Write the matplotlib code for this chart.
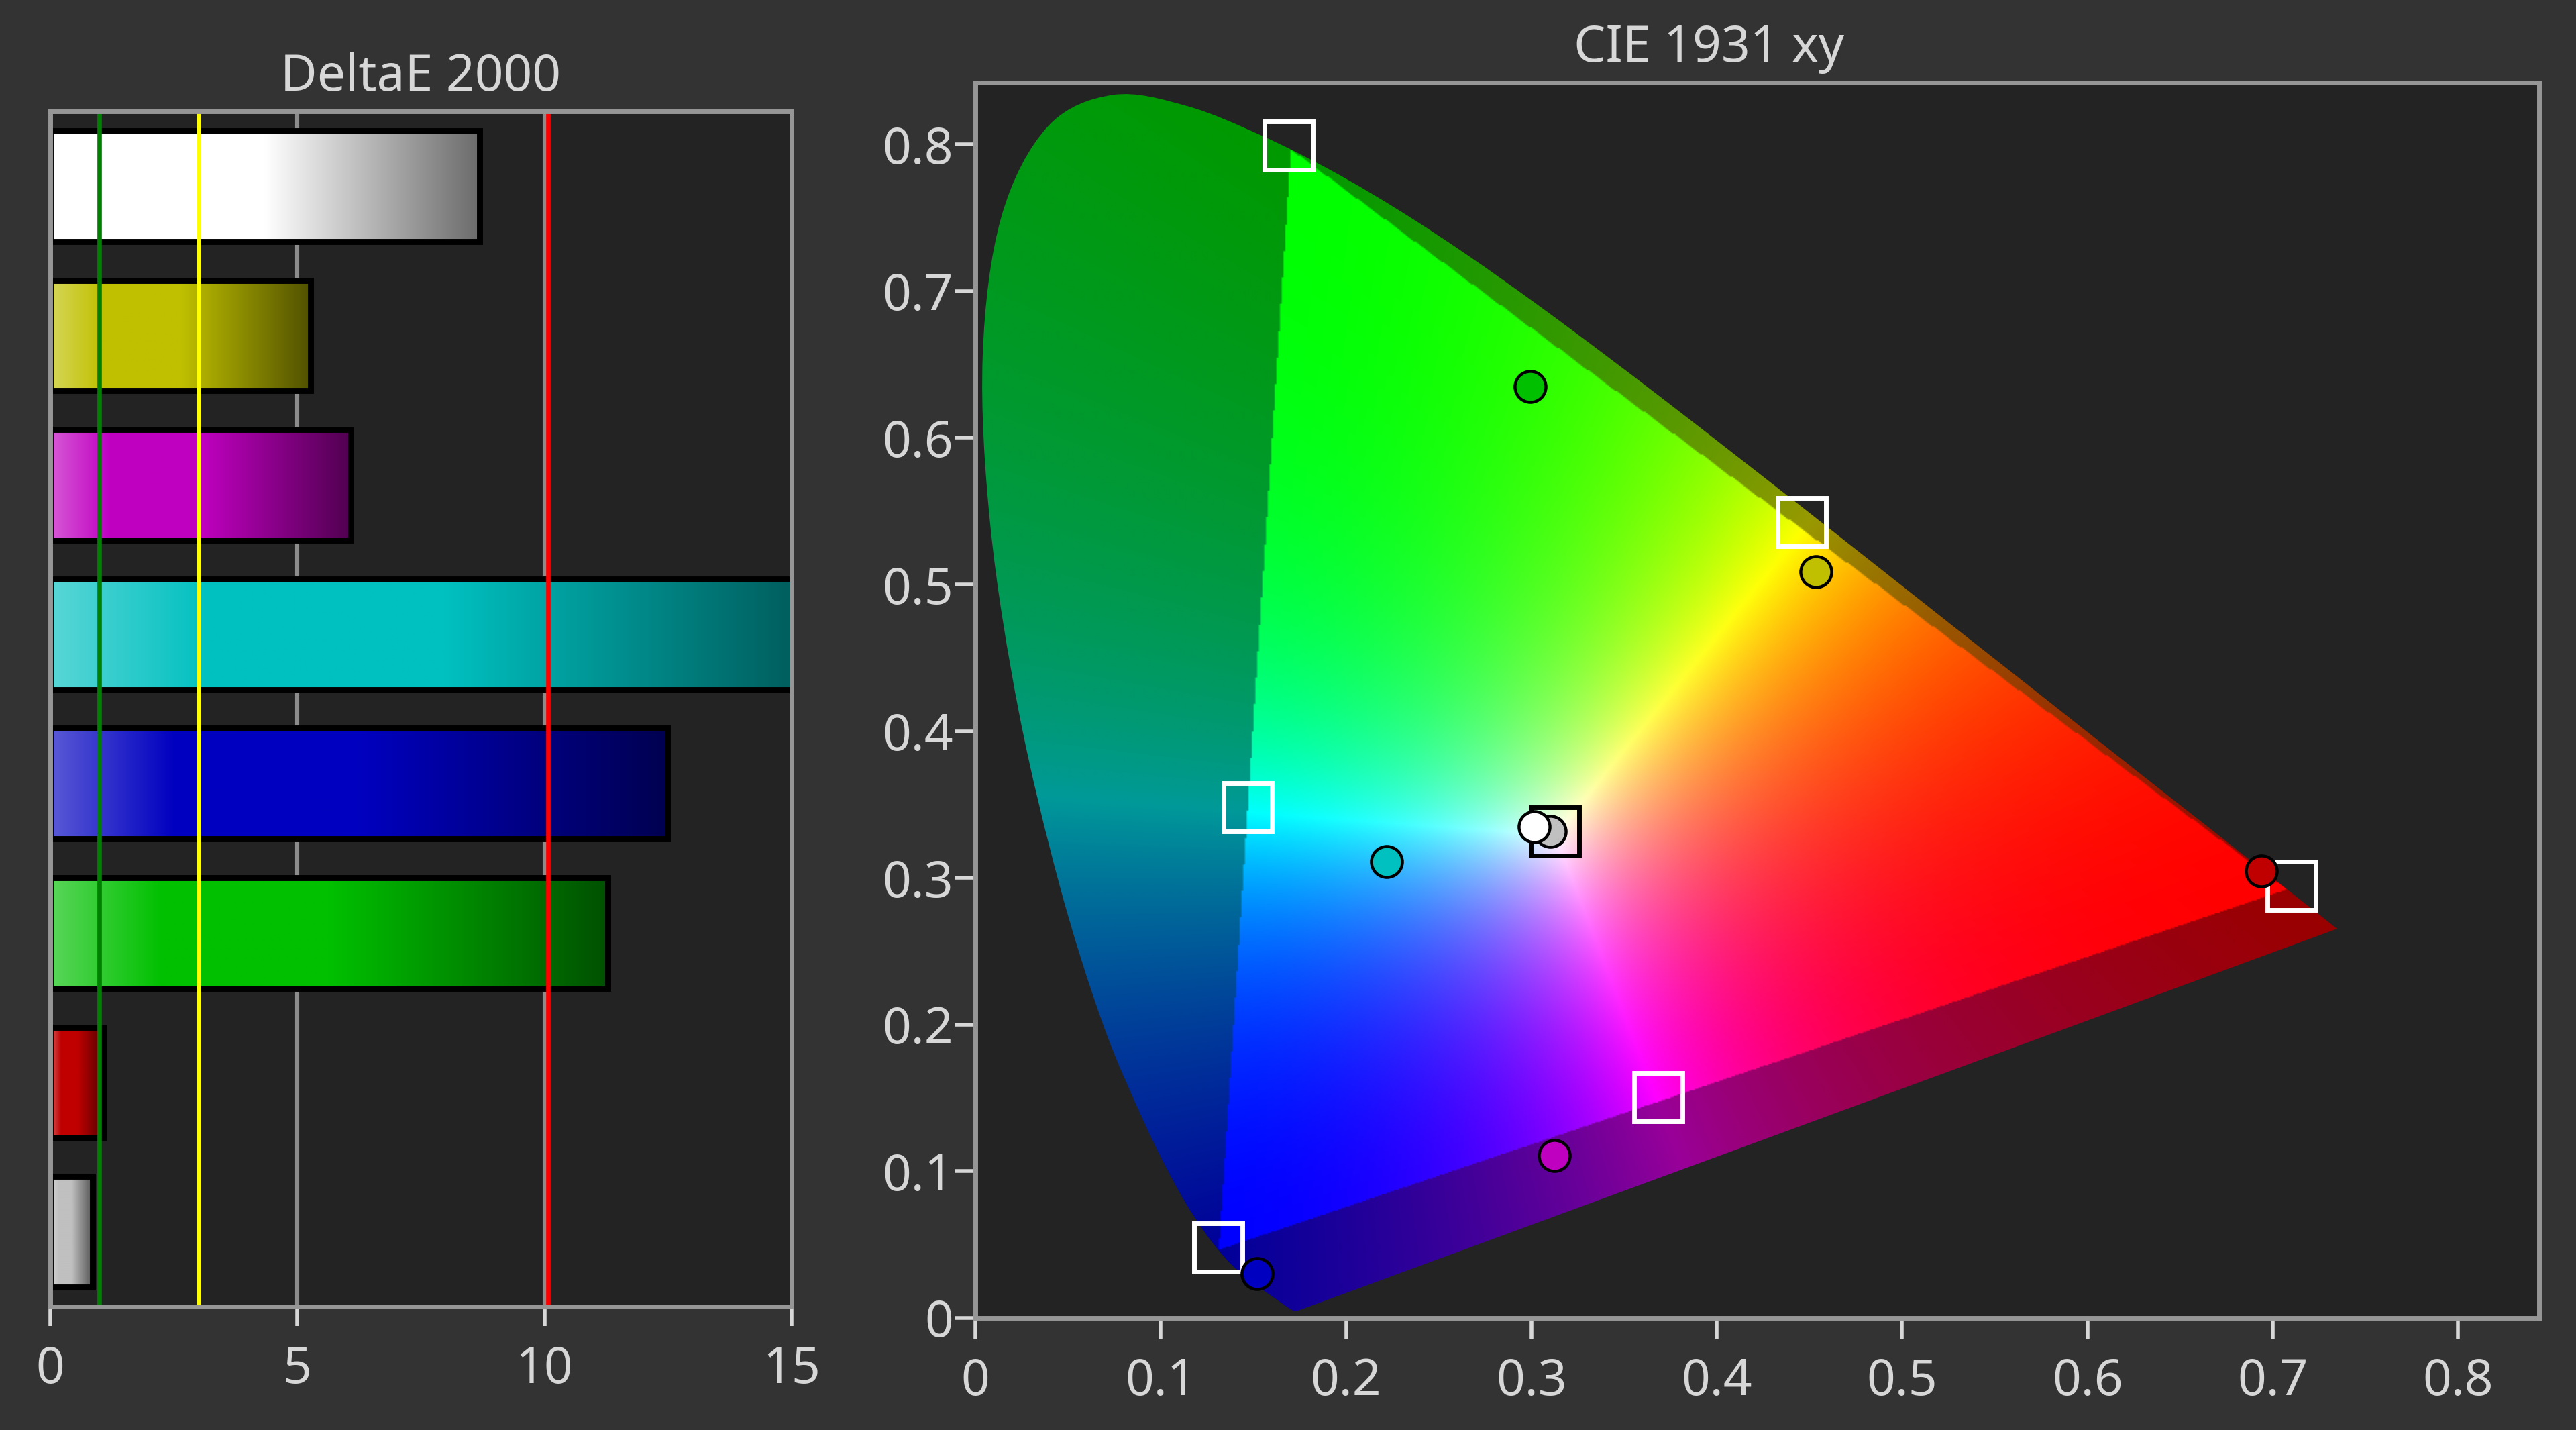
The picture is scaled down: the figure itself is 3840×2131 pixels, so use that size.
import numpy as np
import matplotlib.pyplot as plt
from matplotlib.path import Path
from matplotlib.patches import PathPatch

# --- stile ---
FIG_BG = "#333333"
AX_BG = "#232323"
SPINE = "#969696"
TXT = "#d7d7d7"
plt.rcParams['font.family'] = ['Noto Sans', 'DejaVu Sans']

# --- DeltaE 2000 (barre dall'alto verso il basso) ---
bar_names = ["white", "yellow", "magenta", "cyan", "blue", "green", "red", "gray"]
bar_values = [8.69, 5.27, 6.08, 16.0, 12.49, 11.28, 1.09, 0.86]
bar_colors = [(255, 255, 255), (192, 192, 0), (192, 0, 192), (0, 192, 192),
              (0, 0, 192), (0, 192, 0), (192, 0, 0), (192, 192, 192)]
de_ticks = [0, 5, 10, 15]
de_grid = [5, 10]
thresholds = [1, 3, 10.07]
threshold_colors = ["#008000", "#ffff00", "#ff0000"]

# --- CIE 1931 xy: misure (cerchi) e target (quadrati), stesso ordine delle barre ---
meas_x = [0.3015, 0.4536, 0.3122, 0.2219, 0.1520, 0.2993, 0.6937, 0.3101]
meas_y = [0.3349, 0.5088, 0.1106, 0.3111, 0.0302, 0.6351, 0.3045, 0.3317]
target_x = [0.3126, 0.4459, 0.3683, 0.1469, 0.1310, 0.1690, 0.7101]
target_y = [0.3317, 0.5424, 0.1505, 0.3480, 0.0480, 0.7990, 0.2947]
target_edges = ["black", "white", "white", "white", "white", "white", "white"]
xy_ticks = [0, 0.1, 0.2, 0.3, 0.4, 0.5, 0.6, 0.7, 0.8]
xy_ticklabels = ["0", "0.1", "0.2", "0.3", "0.4", "0.5", "0.6", "0.7", "0.8"]

# luogo spettrale CIE 1931 2° (380-700 nm)
locus_x = [0.1741, 0.1740, 0.1738, 0.1736, 0.1733, 0.1730, 0.1726, 0.1721, 0.1714,
           0.1703, 0.1689, 0.1669, 0.1644, 0.1611, 0.1566, 0.1510, 0.1440, 0.1355,
           0.1241, 0.1096, 0.0913, 0.0687, 0.0454, 0.0235, 0.0082, 0.0039, 0.0139,
           0.0389, 0.0743, 0.1142, 0.1547, 0.1929, 0.2296, 0.2658, 0.3016, 0.3373,
           0.3731, 0.4087, 0.4441, 0.4788, 0.5125, 0.5448, 0.5752, 0.6029, 0.6270,
           0.6482, 0.6658, 0.6801, 0.6915, 0.7006, 0.7079, 0.7140, 0.7190, 0.7230,
           0.7260, 0.7283, 0.7300, 0.7311, 0.7320, 0.7327, 0.7334, 0.7344, 0.7347]
locus_y = [0.0050, 0.0050, 0.0049, 0.0049, 0.0048, 0.0048, 0.0048, 0.0048, 0.0051,
           0.0058, 0.0069, 0.0086, 0.0109, 0.0138, 0.0177, 0.0227, 0.0297, 0.0399,
           0.0578, 0.0868, 0.1327, 0.2007, 0.2950, 0.4127, 0.5384, 0.6548, 0.7502,
           0.8120, 0.8338, 0.8262, 0.8059, 0.7816, 0.7543, 0.7243, 0.6923, 0.6589,
           0.6245, 0.5896, 0.5547, 0.5202, 0.4866, 0.4544, 0.4242, 0.3965, 0.3725,
           0.3514, 0.3340, 0.3197, 0.3083, 0.2993, 0.2920, 0.2859, 0.2809, 0.2770,
           0.2740, 0.2717, 0.2700, 0.2689, 0.2680, 0.2673, 0.2666, 0.2656, 0.2653]

# XYZ -> RGB BT.2020 (lineare)
XYZ_TO_2020 = np.array([[1.7166512, -0.3556708, -0.2533663],
                        [-0.6666844, 1.6164812, 0.0157685],
                        [0.0176399, -0.0427706, 0.9421031]])
POWER = 1.6      # saturazione del riempimento dentro il triangolo
OUT_DIM = 0.6    # fuori dal triangolo BT.2020 il colore e' piu' scuro

fig = plt.figure(figsize=(19.2, 10.655), dpi=200, facecolor=FIG_BG)
ax1 = fig.add_axes([0.01943, 0.08634, 0.3073 - 0.01943, 0.9221 - 0.08634])
ax2 = fig.add_axes([0.37865, 0.07837, 0.98568 - 0.37865, 0.94228 - 0.07837])

for ax in (ax1, ax2):
    ax.set_facecolor(AX_BG)
    for s in ax.spines.values():
        s.set_color(SPINE)
        s.set_linewidth(2.5)
        s.set_zorder(6)

# ---------------- pannello DeltaE ----------------
pos = np.arange(len(bar_values))
for g in de_grid:
    ax1.axvline(g, color="#8c8c8c", lw=2.2, zorder=1)

bars = ax1.barh(pos, bar_values, height=0.74, color="none", edgecolor="black",
                linewidth=3.2, zorder=3)

t = np.linspace(0, 1, 256)
for rect, c in zip(bars, bar_colors):
    base = np.array(c) / 255.0
    light = base + (1 - base) * 0.35
    dark = base * 0.42
    grad = np.stack([np.interp(t, [0, 0.2, 0.5, 1.0], [light[k], base[k], base[k], dark[k]])
                     for k in range(3)], -1)
    x0, y0 = rect.get_x(), rect.get_y()
    w, h = rect.get_width(), rect.get_height()
    im = ax1.imshow(grad[None, :, :], extent=[x0, x0 + w, y0 + h, y0], aspect="auto",
                    interpolation="bilinear", zorder=2)
    im.set_clip_path(rect)
    im.set_clip_box(ax1.bbox)

for v, c in zip(thresholds, threshold_colors):
    ax1.axvline(v, color=c, lw=2.4, zorder=4)

ax1.set_xlim(0, 15)
ax1.set_ylim(len(bar_values) - 0.5, -0.5)
ax1.set_xticks(de_ticks)
ax1.set_yticks([])
ax1.tick_params(axis="x", colors=TXT, labelsize=27, length=10.5, width=2, pad=10)
ax1.set_title("DeltaE 2000", color=TXT, fontsize=27, pad=11)

# ---------------- pannello CIE 1931 ----------------
n = 900
gx, gy = np.meshgrid(np.linspace(0, 0.85, n), np.linspace(0.0005, 0.85, n))
XYZ = np.stack([gx / gy, np.ones_like(gx), (1 - gx - gy) / gy], -1)
rgb = XYZ @ XYZ_TO_2020.T
inside = (rgb >= 0).all(-1)
rgb = np.clip(rgb, 0, None)
rgb = rgb / rgb.max(-1, keepdims=True)
rgb[inside] = rgb[inside] ** POWER
rgb[~inside] *= OUT_DIM

# contorno del ferro di cavallo: curve di Bezier sui punti del luogo spettrale
pts = np.column_stack([locus_x, locus_y])
P = np.vstack([pts[0], pts, pts[-1]])
verts = [pts[0]]
codes = [Path.MOVETO]
for i in range(1, len(P) - 2):
    p0, p1, p2, p3 = P[i - 1], P[i], P[i + 1], P[i + 2]
    verts += [p1 + (p2 - p0) / 6, p2 - (p3 - p1) / 6, p2]
    codes += [Path.CURVE4] * 3
verts.append(pts[0])
codes.append(Path.CLOSEPOLY)
horseshoe = PathPatch(Path(verts, codes), facecolor="none", edgecolor="none",
                      transform=ax2.transData)
ax2.add_patch(horseshoe)

img = ax2.imshow(rgb, extent=[0, 0.85, 0.0005, 0.85], origin="lower", aspect="auto",
                 interpolation="bilinear", zorder=1)
img.set_clip_path(horseshoe)

for tx, ty, ec in zip(target_x, target_y, target_edges):
    ax2.plot(tx, ty, marker="s", ms=26, mfc="none", mec=ec, mew=2.5, zorder=3)

for mx, my, c in list(zip(meas_x, meas_y, bar_colors))[::-1]:
    fc = tuple(np.array(c) / 255.0)
    ax2.plot(mx, my, marker="o", ms=16.6, mfc=fc, mec="black", mew=1.6, zorder=4)

ax2.set_xlim(0, 0.8437)
ax2.set_ylim(0, 0.8422)
ax2.set_xticks(xy_ticks)
ax2.set_xticklabels(xy_ticklabels)
ax2.set_yticks(xy_ticks)
ax2.set_yticklabels(xy_ticklabels)
ax2.tick_params(axis="x", colors=TXT, labelsize=27, length=11, width=2, pad=10)
ax2.tick_params(axis="y", colors=TXT, labelsize=27, length=11, width=2, pad=1)
ax2.set_title("CIE 1931 xy", color=TXT, fontsize=27, pad=11, x=0.469)

fig.savefig("out.png", dpi=200, facecolor=FIG_BG)
